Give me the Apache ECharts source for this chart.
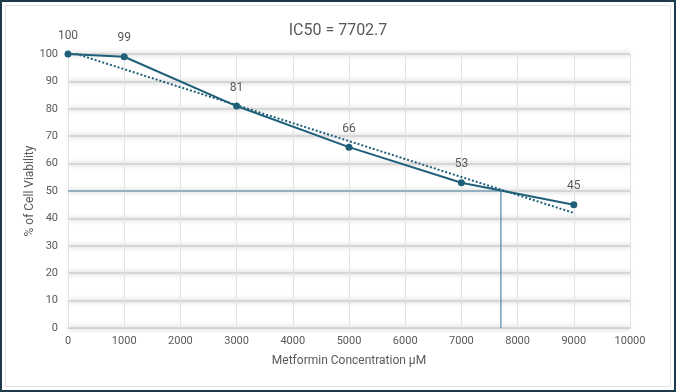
<!DOCTYPE html>
<html>
<head>
<meta charset="utf-8">
<script src="https://cdn.jsdelivr.net/npm/echarts@6/dist/echarts.min.js"></script>
<style>
    html, body { margin: 0; padding: 0; background: #fff; }
    .frame {
        position: absolute; left: 0; top: 0; width: 672px; height: 388px;
        border: 2px solid #1d3a4b;
    }
    .inner {
        position: absolute; left: 3px; top: 3px; right: 3px; bottom: 3px;
        border: 1px solid #e2e2e2;
    }
    #chart { position: absolute; left: 0; top: 0; width: 676px; height: 392px; }
</style>
</head>
<body>
<div class="frame"><div class="inner"></div></div>
<div id="chart"></div>
<script>
// concentrations (µM) and viability (%)
const concentrations = [0, 1000, 3000, 5000, 7000, 9000]
const viability = [100, 99, 81, 66, 53, 45]
// linear trendline ends
const trendX = [0, 9000]
const trendY = [101, 42]
const ic50 = 7702.7
const xTicks = [0, 10000, 1000]
const yTicks = [0, 100, 10]

let textColor = '#595959'
let lineColor = '#1f5f7a'
let chart = echarts.init(document.getElementById('chart'))
chart.setOption({
    animation: false,
    title: {
        text: 'IC50 = ' + ic50,
        left: 'center',
        top: 18,
        textStyle: { color: textColor, fontSize: 16, fontWeight: 'normal', fontFamily: 'Roboto' }
    },
    grid: { left: 68, right: 46, top: 54, bottom: 64 },
    xAxis: {
        type: 'value',
        min: xTicks[0],
        max: xTicks[1],
        interval: xTicks[2],
        name: 'Metformin Concentration µM',
        nameLocation: 'middle',
        nameGap: 27,
        nameTextStyle: { color: textColor, fontSize: 12, fontFamily: 'Roboto' },
        axisLine: { show: true, lineStyle: { color: '#d0d0d0' } },
        axisTick: { show: false },
        axisLabel: { color: textColor, fontSize: 11, fontFamily: 'Roboto', margin: 8, formatter: v => String(v) },
        splitLine: { show: true, lineStyle: { color: '#e2e2e2', width: 1 } }
    },
    yAxis: {
        type: 'value',
        min: yTicks[0],
        max: yTicks[1],
        interval: yTicks[2],
        name: '% of Cell Viability',
        nameLocation: 'middle',
        nameGap: 32,
        nameMoveOverlap: false,
        nameTextStyle: { color: textColor, fontSize: 12, fontFamily: 'Roboto' },
        axisLine: { show: false },
        axisTick: { show: false },
        axisLabel: { color: textColor, fontSize: 11, fontFamily: 'Roboto', margin: 10 },
        splitLine: {
            show: true,
            lineStyle: { color: '#d6d6d6', width: 2, shadowColor: 'rgba(0,0,0,0.25)', shadowBlur: 5 }
        }
    },
    series: [
        {
            name: 'IC50',
            type: 'line',
            symbol: 'none',
            lineStyle: { color: '#4f8aa3', width: 1.2 },
            data: [[0, 50], [ic50, 50], [ic50, 0]],
            z: 2
        },
        {
            name: 'Trend',
            type: 'line',
            symbol: 'none',
            lineStyle: { color: lineColor, width: 2, type: [2, 2] },
            data: trendX.map((x, i) => [x, trendY[i]]),
            z: 3
        },
        {
            name: 'Viability',
            type: 'line',
            symbol: 'circle',
            symbolSize: 7,
            itemStyle: { color: lineColor },
            lineStyle: { color: lineColor, width: 2 },
            label: {
                show: true,
                position: 'top',
                distance: 9,
                color: textColor,
                fontSize: 12,
                fontFamily: 'Roboto'
            },
            data: concentrations.map((x, i) => [x, viability[i]]),
            z: 4
        }
    ]
})
</script>
</body>
</html>
